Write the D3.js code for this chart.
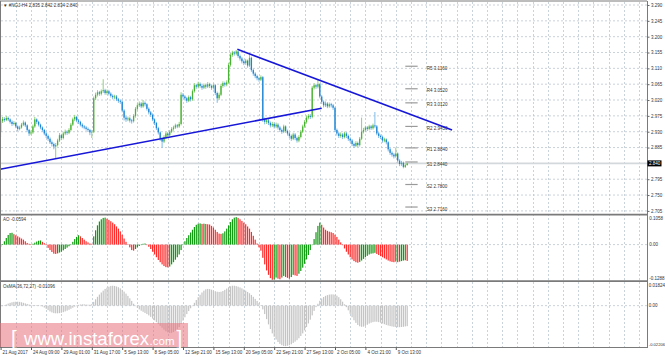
<!DOCTYPE html>
<html><head><meta charset="utf-8">
<script src="https://cdn.jsdelivr.net/npm/d3@7"></script>
<style>
html,body{margin:0;padding:0;background:#fff;}
svg{display:block;font-family:"Liberation Sans",Arial,sans-serif;}
</style></head>
<body><svg id="c" width="665" height="357"></svg>
<script>
// ---------------- DATA ----------------
const symbolTitle = "\u25BC #NGJ-H4  2.835 2.842 2.834 2.840";
const firstOpen = 2.930;
const closes = [
2.960,2.966,2.963,2.969,2.965,2.958,2.952,2.955,2.945,2.938,
2.942,2.950,2.956,2.948,2.935,2.925,2.928,2.945,2.965,2.958,
2.950,2.942,2.935,2.925,2.918,2.910,2.900,2.895,2.888,2.892,
2.905,2.920,2.912,2.925,2.930,2.927,2.935,2.950,2.965,2.972,
2.962,2.958,2.950,2.945,2.942,2.938,2.935,2.928,2.930,3.025,
3.035,3.042,3.038,3.045,3.048,3.040,3.045,3.038,3.032,3.028,
3.030,3.022,3.018,3.015,2.990,2.970,2.965,2.968,2.962,2.960,
2.975,2.995,3.005,3.010,3.002,3.012,3.008,2.995,2.985,2.978,
2.965,2.955,2.940,2.928,2.910,2.902,2.915,2.925,2.920,2.930,
2.938,2.942,2.948,2.945,2.952,3.035,3.030,3.025,3.018,3.028,
3.022,3.045,3.062,3.058,3.066,3.060,3.055,3.062,3.058,3.065,
3.060,3.055,3.062,3.040,3.025,3.035,3.060,3.068,3.064,3.070,
3.120,3.148,3.155,3.152,3.158,3.145,3.138,3.130,3.125,3.132,
3.118,3.140,3.105,3.095,3.088,3.082,3.078,3.085,2.965,2.958,
2.962,2.955,2.948,2.952,2.945,2.950,2.942,2.935,2.930,2.945,
2.932,2.925,2.918,2.910,2.922,2.912,2.905,2.915,2.930,2.945,
2.958,2.970,2.975,2.972,3.055,3.062,3.058,3.065,3.030,3.015,
3.005,3.010,3.002,3.008,3.005,2.998,2.935,2.925,2.918,2.922,
2.915,2.925,2.918,2.910,2.905,2.895,2.890,2.898,2.892,2.910,
2.930,2.935,2.942,2.938,2.945,2.940,2.948,2.945,2.925,2.918,
2.915,2.905,2.908,2.900,2.880,2.870,2.865,2.860,2.868,2.848,
2.838,2.842,2.830,2.835,2.840];
const highs = [
2.968,2.972,2.971,2.975,2.973,2.968,2.962,2.960,2.958,2.948,
2.947,2.955,2.962,2.959,2.951,2.938,2.934,2.950,2.972,2.968,
2.961,2.953,2.945,2.938,2.929,2.922,2.914,2.905,2.899,2.898,
2.910,2.926,2.924,2.930,2.936,2.934,2.940,2.955,2.970,2.978,
2.975,2.966,2.961,2.954,2.949,2.946,2.942,2.938,2.935,3.030,
3.041,3.048,3.046,3.050,3.079,3.052,3.050,3.049,3.042,3.036,
3.035,3.034,3.026,3.022,3.019,2.994,2.975,2.973,2.972,2.966,
2.980,3.000,3.011,3.016,3.014,3.020,3.016,3.011,2.999,2.989,
2.982,2.968,2.958,2.944,2.931,2.914,2.920,2.930,2.929,2.935,
2.943,2.947,2.953,2.952,2.958,3.042,3.040,3.034,3.029,3.033,
3.032,3.050,3.068,3.066,3.072,3.070,3.064,3.067,3.066,3.071,
3.069,3.064,3.067,3.065,3.044,3.041,3.066,3.073,3.072,3.076,
3.126,3.153,3.160,3.159,3.162,3.160,3.149,3.142,3.134,3.137,
3.135,3.150,3.143,3.109,3.099,3.092,3.086,3.090,3.088,2.970,
2.968,2.966,2.959,2.958,2.956,2.956,2.954,2.946,2.939,2.950,
2.948,2.936,2.929,2.922,2.927,2.926,2.916,2.920,2.935,2.950,
2.963,2.976,2.980,2.980,3.060,3.068,3.066,3.078,3.068,3.034,
3.019,3.016,3.014,3.013,3.012,3.009,3.001,2.939,2.929,2.928,
2.926,2.930,2.929,2.922,2.914,2.909,2.899,2.903,2.902,2.915,
2.970,2.941,2.947,2.946,2.950,2.949,2.953,2.986,2.949,2.929,
2.922,2.919,2.913,2.911,2.903,2.884,2.874,2.869,2.885,2.871,
2.852,2.847,2.845,2.840,2.842];
const lows = [
2.915,2.955,2.958,2.960,2.960,2.953,2.946,2.948,2.940,2.932,
2.934,2.939,2.946,2.943,2.930,2.918,2.920,2.924,2.941,2.952,
2.945,2.937,2.930,2.920,2.912,2.904,2.895,2.888,2.880,2.855,
2.888,2.901,2.906,2.908,2.920,2.921,2.923,2.931,2.946,2.960,
2.957,2.952,2.945,2.940,2.937,2.933,2.929,2.920,2.912,2.926,
3.020,3.030,3.032,3.033,3.040,3.035,3.035,3.033,3.027,3.022,
3.023,3.017,3.012,3.009,2.985,2.962,2.958,2.960,2.956,2.953,
2.956,2.970,2.990,3.000,2.997,2.998,3.002,2.990,2.979,2.972,
2.960,2.949,2.935,2.922,2.904,2.884,2.898,2.910,2.914,2.916,
2.926,2.933,2.938,2.940,2.941,2.948,3.024,3.019,3.012,3.014,
3.016,3.018,3.041,3.052,3.053,3.055,3.049,3.051,3.052,3.054,
3.054,3.049,3.050,3.034,3.012,3.020,3.031,3.055,3.058,3.059,
3.066,3.115,3.143,3.146,3.147,3.140,3.132,3.124,3.119,3.120,
3.112,3.114,3.100,3.089,3.082,3.076,3.072,3.074,2.958,2.951,
2.952,2.949,2.942,2.943,2.939,2.940,2.936,2.929,2.924,2.926,
2.927,2.919,2.912,2.904,2.906,2.906,2.899,2.900,2.911,2.926,
2.941,2.953,2.965,2.966,2.968,3.050,3.052,3.053,3.025,3.009,
2.999,3.000,2.997,2.998,2.999,2.992,2.929,2.919,2.912,2.913,
2.909,2.911,2.912,2.904,2.899,2.889,2.884,2.886,2.886,2.888,
2.906,2.925,2.930,2.932,2.934,2.935,2.936,2.940,2.920,2.912,
2.909,2.899,2.900,2.894,2.874,2.864,2.859,2.854,2.856,2.842,
2.832,2.833,2.826,2.827,2.834];
const aoValues = [
-0.008,0.002,0.012,0.024,0.035,0.042,0.043,0.038,0.034,0.030,
0.026,0.022,0.018,0.012,0.006,0.003,0.001,0.003,0.007,0.011,
0.014,0.015,0.010,0.005,-0.002,-0.012,-0.020,-0.027,-0.033,-0.034,
-0.032,-0.029,-0.026,-0.021,-0.016,-0.011,-0.006,0.000,0.010,0.020,
0.028,0.034,0.030,0.024,0.018,0.012,0.008,0.004,0.003,0.030,
0.052,0.070,0.084,0.092,0.097,0.098,0.094,0.090,0.085,0.080,
0.074,0.066,0.058,0.048,0.036,0.022,0.010,0.002,-0.010,-0.020,
-0.022,-0.016,-0.010,-0.005,-0.001,0.003,0.004,0.000,-0.008,-0.016,
-0.026,-0.036,-0.046,-0.056,-0.064,-0.072,-0.078,-0.082,-0.083,-0.080,
-0.072,-0.064,-0.055,-0.046,-0.036,-0.020,-0.002,0.012,0.024,0.034,
0.044,0.054,0.064,0.072,0.076,0.077,0.075,0.076,0.075,0.074,
0.073,0.068,0.062,0.054,0.046,0.040,0.039,0.041,0.048,0.058,
0.070,0.082,0.092,0.098,0.100,0.097,0.092,0.086,0.080,0.074,
0.066,0.058,0.046,0.032,0.018,0.004,-0.010,-0.022,-0.048,-0.072,
-0.094,-0.110,-0.122,-0.128,-0.127,-0.120,-0.124,-0.126,-0.120,-0.114,
-0.118,-0.121,-0.124,-0.118,-0.110,-0.112,-0.114,-0.106,-0.096,-0.084,
-0.070,-0.054,-0.038,-0.020,-0.002,0.020,0.045,0.068,0.080,0.072,
0.062,0.054,0.050,0.047,0.045,0.042,0.036,0.028,0.018,0.008,
-0.002,-0.014,-0.026,-0.036,-0.046,-0.054,-0.060,-0.064,-0.066,-0.063,
-0.058,-0.052,-0.046,-0.041,-0.036,-0.033,-0.032,-0.030,-0.034,-0.038,
-0.042,-0.046,-0.050,-0.054,-0.058,-0.061,-0.063,-0.064,-0.062,-0.064,
-0.062,-0.060,-0.058,-0.057,-0.0594];
const osmaValues = [
-0.0004,-0.0002,0.0002,0.0006,0.0011,0.0015,0.0018,0.0020,0.0021,0.0021,
0.0020,0.0018,0.0015,0.0012,0.0009,0.0006,0.0004,0.0003,0.0003,0.0003,
0.0002,0.0000,-0.0004,-0.0010,-0.0017,-0.0024,-0.0031,-0.0036,-0.0040,-0.0041,
-0.0041,-0.0040,-0.0038,-0.0035,-0.0031,-0.0027,-0.0022,-0.0017,-0.0011,-0.0005,
0.0000,0.0004,0.0006,0.0007,0.0007,0.0006,0.0005,0.0005,0.0008,0.0020,
0.0034,0.0047,0.0059,0.0070,0.0080,0.0089,0.0096,0.0101,0.0105,0.0106,
0.0105,0.0102,0.0098,0.0092,0.0084,0.0075,0.0064,0.0052,0.0039,0.0025,
0.0010,-0.0002,-0.0012,-0.0020,-0.0027,-0.0033,-0.0039,-0.0045,-0.0052,-0.0060,
-0.0069,-0.0078,-0.0088,-0.0098,-0.0108,-0.0118,-0.0128,-0.0137,-0.0143,-0.0146,
-0.0145,-0.0141,-0.0134,-0.0125,-0.0114,-0.0098,-0.0080,-0.0062,-0.0045,-0.0029,
-0.0014,0.0000,0.0015,0.0030,0.0045,0.0058,0.0070,0.0080,0.0087,0.0089,
0.0088,0.0085,0.0081,0.0077,0.0074,0.0073,0.0074,0.0078,0.0084,0.0091,
0.0098,0.0103,0.0106,0.0106,0.0104,0.0101,0.0097,0.0092,0.0086,0.0080,
0.0073,0.0066,0.0057,0.0047,0.0036,0.0025,0.0013,0.0002,-0.0020,-0.0045,
-0.0072,-0.0100,-0.0125,-0.0148,-0.0166,-0.0181,-0.0194,-0.0204,-0.0211,-0.0215,
-0.0216,-0.0214,-0.0211,-0.0206,-0.0199,-0.0192,-0.0184,-0.0174,-0.0162,-0.0148,
-0.0132,-0.0114,-0.0095,-0.0075,-0.0052,-0.0028,-0.0008,0.0010,0.0026,0.0038,
0.0046,0.0052,0.0056,0.0059,0.0060,0.0060,0.0058,0.0053,0.0045,0.0034,
0.0021,0.0007,-0.0008,-0.0025,-0.0044,-0.0062,-0.0078,-0.0092,-0.0103,-0.0110,
-0.0113,-0.0112,-0.0108,-0.0102,-0.0096,-0.0091,-0.0088,-0.0086,-0.0086,-0.0088,
-0.0091,-0.0095,-0.0099,-0.0103,-0.0106,-0.0109,-0.0111,-0.0113,-0.0114,-0.0115,
-0.0115,-0.0114,-0.0113,-0.0111,-0.01096];
const priceTicks = [3.290,3.245,3.200,3.155,3.110,3.065,3.020,2.975,2.930,2.885,2.795,2.750,2.705];
const currentPrice = 2.840;
const timeLabels = ["21 Aug 2017","24 Aug 09:00","29 Aug 01:00","31 Aug 17:00","5 Sep 13:00","8 Sep 05:00",
  "12 Sep 21:00","15 Sep 13:00","20 Sep 05:00","22 Sep 21:00","27 Sep 13:00","2 Oct 05:00","4 Oct 21:00","9 Oct 13:00"];
const pivotNames = ["R5","R4","R3","R2","R1","S1","S2","S3"];
const pivotValues = [3.1160,3.0520,3.0120,2.9450,2.8840,2.8440,2.7800,2.7160];
const trendStart = [{bar:-0.3, price:2.8233},{bar:124.6, price:3.1641}];
const trendEnd   = [{bar:169.0, price:2.9965},{bar:237.6, price:2.9349}];
const aoTitle = "AO -0.0594";
const aoAxisLabels = ["0.1058","0.00","-0.1288"];
const osmaTitle = "OsMA(36,72,27) -0.01096";
const osmaAxisLabels = ["0.01824","0.00","-0.02206"];

// ---------------- LAYOUT ----------------
const svg = d3.select("#c");
const W = 647;
const x = d3.scaleLinear().domain([0, 340]).range([0.6, 0.6 + 340*1.9]);
const yP = d3.scaleLinear().domain([2.705, 3.290]).range([210.9, 5]);
const yAO = d3.scaleLinear().domain([-0.1288, 0.1058]).range([280, 215.5]);
const yOs = d3.scaleLinear().domain([-0.02206, 0.0126]).range([347, 282]);
const gridColor = "#bcc6d0";
const fs = 4.5;

svg.append("rect").attr("width",665).attr("height",357).attr("fill","#fff");

const defs = svg.append("defs");
defs.append("clipPath").attr("id","cm").append("rect").attr("x",0).attr("y",1).attr("width",W).attr("height",213);

// vertical grid
const vg = d3.range(8, 341, 8);
svg.append("g").selectAll("line").data(vg).join("line")
  .attr("x1", d=>Math.round(x(d))+0.5).attr("x2", d=>Math.round(x(d))+0.5)
  .attr("y1", 2).attr("y2", 347)
  .attr("stroke", gridColor).attr("stroke-width",0.8).attr("stroke-dasharray","2,2");

// horizontal grid main
svg.append("g").selectAll("line").data(priceTicks).join("line")
  .attr("x1", 1).attr("x2", W).attr("y1", d=>yP(d)).attr("y2", d=>yP(d))
  .attr("stroke", gridColor).attr("stroke-width",0.8).attr("stroke-dasharray","2,2");
svg.append("line").attr("x1",1).attr("x2",W).attr("y1",yAO(0)).attr("y2",yAO(0))
  .attr("stroke",gridColor).attr("stroke-width",0.8).attr("stroke-dasharray","2,2");
svg.append("line").attr("x1",1).attr("x2",W).attr("y1",yOs(0)).attr("y2",yOs(0))
  .attr("stroke",gridColor).attr("stroke-width",0.8).attr("stroke-dasharray","2,2");

// current price line
svg.append("line").attr("x1",1).attr("x2",W).attr("y1",yP(currentPrice)).attr("y2",yP(currentPrice))
  .attr("stroke","#d3d8dc").attr("stroke-width",1.6);

// pivot levels
const pv = svg.append("g");
pv.selectAll("line").data(pivotValues).join("line")
  .attr("x1", x(213)).attr("x2", x(219.5)).attr("y1", d=>yP(d)).attr("y2", d=>yP(d))
  .attr("stroke","#9a9a9a").attr("stroke-width",1.2);
pv.selectAll("text").data(pivotValues).join("text")
  .attr("x", x(224.3)).attr("y", d=>yP(d)+2).attr("dy","0.35em")
  .attr("font-size",fs).attr("fill","#333")
  .text((d,i)=>pivotNames[i]+" "+d.toFixed(4));

// candles
const candles = closes.map((c,i)=>({i, o: i===0?firstOpen:closes[i-1], c, h:highs[i], l:lows[i]}));
const cg = svg.append("g").attr("clip-path","url(#cm)");
cg.selectAll("line").data(candles).join("line")
  .attr("x1", d=>x(d.i)).attr("x2", d=>x(d.i)).attr("y1", d=>yP(d.h)).attr("y2", d=>yP(d.l))
  .attr("stroke", d=> d.c>=d.o ? "#8fd07a" : "#7fbce8").attr("stroke-width",1);
cg.selectAll("rect").data(candles).join("rect")
  .attr("x", d=>x(d.i)-0.65).attr("width",1.3)
  .attr("y", d=>yP(Math.max(d.o,d.c)))
  .attr("height", d=>Math.max(0.8, Math.abs(yP(d.o)-yP(d.c))))
  .attr("fill", d=> d.c>=d.o ? "#48b232" : "#1c84d2");

// trend lines
svg.append("g").attr("clip-path","url(#cm)").selectAll("line").data(trendStart).join("line")
  .attr("x1", d=>x(d.bar)).attr("y1", d=>yP(d.price))
  .attr("x2", (d,i)=>x(trendEnd[i].bar)).attr("y2", (d,i)=>yP(trendEnd[i].price))
  .attr("stroke","#1717d8").attr("stroke-width",1.6);

// AO histogram
svg.append("g").selectAll("rect").data(aoValues).join("rect")
  .attr("x", (d,i)=>x(i)-0.6).attr("width",1.2)
  .attr("y", d=>Math.min(yAO(d), yAO(0))).attr("height", d=>Math.max(0.5, Math.abs(yAO(d)-yAO(0))))
  .attr("fill", (d,i)=> (i===0 || d>aoValues[i-1]) ? "#139a13" : "#ff2a2a");

// OsMA histogram
svg.append("g").selectAll("rect").data(osmaValues).join("rect")
  .attr("x", (d,i)=>x(i)-0.6).attr("width",1.2)
  .attr("y", d=>Math.min(yOs(d), yOs(0))).attr("height", d=>Math.max(0.5, Math.abs(yOs(d)-yOs(0))))
  .attr("fill", "#c4c4c4");

// panel borders
const bc = "#7a7a7a";
svg.append("line").attr("x1",0).attr("x2",W).attr("y1",1).attr("y2",1).attr("stroke",bc).attr("stroke-width",1);
svg.append("line").attr("x1",0.5).attr("x2",0.5).attr("y1",1).attr("y2",347.5).attr("stroke",bc).attr("stroke-width",1);
svg.append("line").attr("x1",W+0.5).attr("x2",W+0.5).attr("y1",1).attr("y2",347.5).attr("stroke",bc).attr("stroke-width",1);
svg.append("line").attr("x1",0).attr("x2",W+1).attr("y1",214.6).attr("y2",214.6).attr("stroke",bc).attr("stroke-width",1.8);
svg.append("line").attr("x1",0).attr("x2",W+1).attr("y1",281.2).attr("y2",281.2).attr("stroke",bc).attr("stroke-width",1.8);
svg.append("line").attr("x1",0).attr("x2",W+1).attr("y1",347.5).attr("y2",347.5).attr("stroke",bc).attr("stroke-width",1);

// price axis
const pAxis = svg.append("g").attr("transform",`translate(${W+0.5},0)`)
  .call(d3.axisRight(yP).tickValues(priceTicks).tickSize(2).tickPadding(1.5).tickFormat(d3.format(".3f")));
pAxis.select(".domain").remove();
pAxis.selectAll("line").attr("stroke","#666");
pAxis.selectAll("text").attr("font-size",fs).attr("fill","#333").attr("font-family","Liberation Sans, Arial, sans-serif");

// current price tag
svg.append("rect").attr("x",W+0.5).attr("y",yP(currentPrice)-3).attr("width",14).attr("height",6).attr("fill","#000");
svg.append("text").attr("x",W+2).attr("y",yP(currentPrice)).attr("dy","0.35em").attr("font-size",fs).attr("fill","#fff").text(currentPrice.toFixed(3));

// AO axis labels
svg.append("g").selectAll("text").data(aoAxisLabels).join("text")
  .attr("x", W+2.2).attr("y", (d,i)=> i===0 ? 218 : i===1 ? yAO(0) : 278.3).attr("dy","0.35em")
  .attr("font-size",fs).attr("fill","#333").text(d=>d);
svg.append("text").attr("x",3).attr("y",219).attr("dy","0.35em").attr("font-size",fs).attr("fill","#333").text(aoTitle);

// OsMA axis labels
svg.append("g").selectAll("text").data(osmaAxisLabels).join("text")
  .attr("x", W+1.8).attr("y", (d,i)=> i===0 ? 285.3 : i===1 ? yOs(0) : 345).attr("dy","0.35em")
  .attr("font-size",(d,i)=> i===2 ? 4.1 : fs).attr("fill","#333").text(d=>d);
svg.append("text").attr("x",3).attr("y",286).attr("dy","0.35em").attr("font-size",fs).attr("fill","#333").text(osmaTitle);

// header
svg.append("text").attr("x",3).attr("y",5.3).attr("dy","0.35em").attr("font-size",fs).attr("fill","#333").text(symbolTitle);

// time axis
const tAxis = svg.append("g").attr("transform","translate(0,347.5)")
  .call(d3.axisBottom(x).tickValues(timeLabels.map((t,i)=>i*16)).tickSize(2.5).tickFormat((d,i)=>timeLabels[i]));
tAxis.select(".domain").remove();
tAxis.selectAll("line").attr("stroke","#555");
tAxis.selectAll("text").attr("text-anchor","start").attr("x",1.5).attr("y",4.8).attr("dy","0.35em")
  .attr("font-size",fs).attr("fill","#333").attr("font-family","Liberation Sans, Arial, sans-serif");

// watermark
const wm = svg.append("g");
wm.append("rect").attr("x",0).attr("y",323).attr("width",188).attr("height",24).attr("fill","#e8707c").attr("opacity",0.55);
wm.append("text").attr("x",11).attr("y",344.5).attr("font-size",21).attr("fill","#fff").text("[");
const wmMain = wm.append("text").attr("x",24).attr("y",344.5).attr("font-size",18.6).attr("fill","#fff").text("www.instaforex");
const mainEnd = 24 + wmMain.node().getComputedTextLength();
const wmCom = wm.append("text").attr("x",mainEnd+0.5).attr("y",344.5).attr("font-size",11.5).attr("fill","#fff").text(".com");
const comEnd = mainEnd + 0.5 + wmCom.node().getComputedTextLength();
wm.append("text").attr("x",Math.max(173, comEnd+2)).attr("y",344.5).attr("font-size",21).attr("fill","#fff").text("]");
</script></body></html>
